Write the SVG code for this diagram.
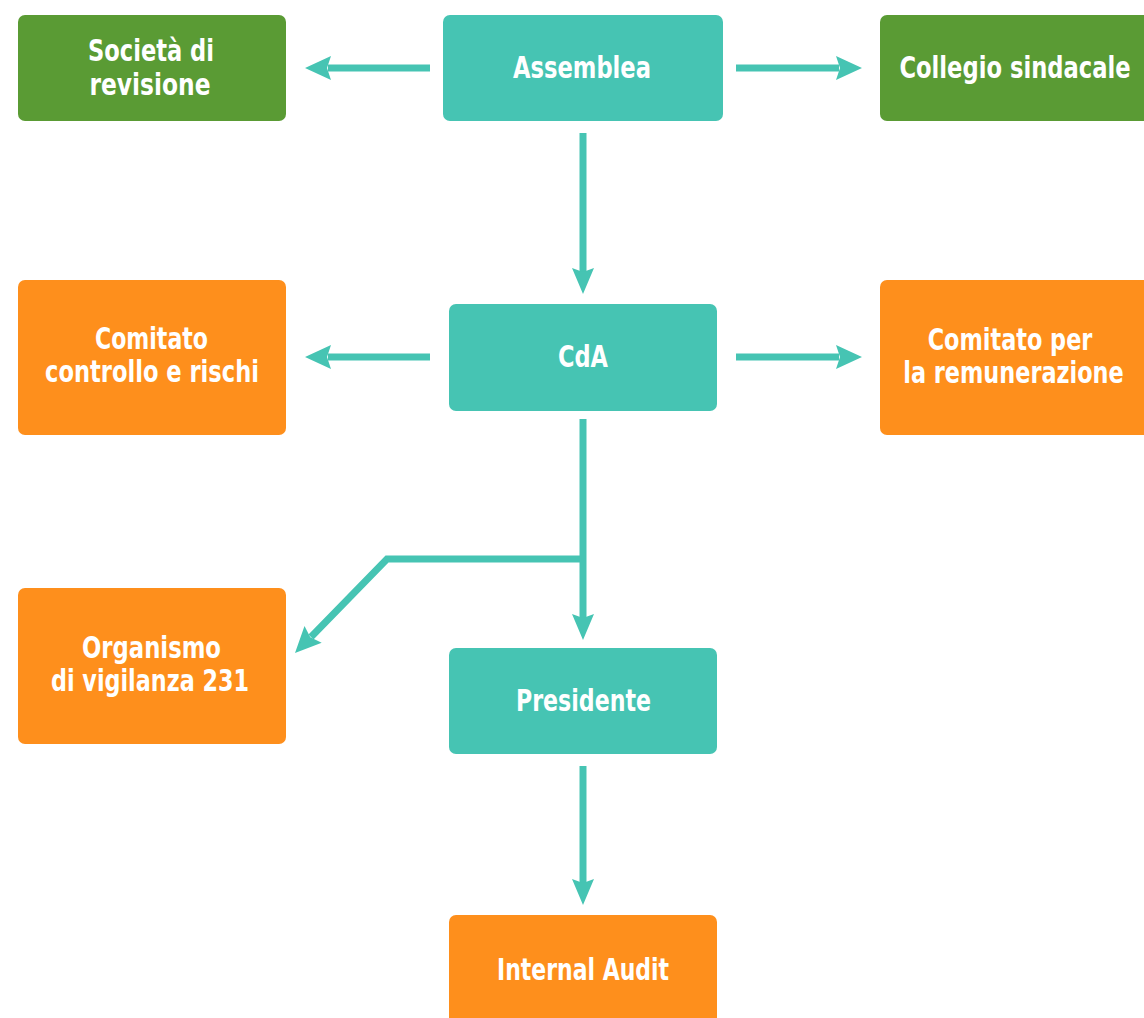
<svg xmlns="http://www.w3.org/2000/svg" width="1144" height="1018" viewBox="0 0 1144 1018">
<defs>
<style>
.teal{fill:#46c4b3}
.green{fill:#5a9b34}
.orange{fill:#fe8f1c}
.lbl{font-family:"DejaVu Sans Condensed","Liberation Sans",sans-serif;font-weight:bold;font-size:30px;fill:#ffffff;text-anchor:middle}
.ln{stroke:#46c4b3;stroke-width:7;fill:none;stroke-linejoin:miter}
.hd{fill:#46c4b3}
</style>
</defs>
<rect width="1144" height="1018" fill="#ffffff"/>
<g id="connectors">
<path class="ln" d="M430,68 H328"/>
<polygon class="hd" points="305,68 331,56 327,68 331,80"/>
<path class="ln" d="M736,68 H839"/>
<polygon class="hd" points="862,68 836,56 840,68 836,80"/>
<path class="ln" d="M583,133 V273"/>
<polygon class="hd" points="583,294 572,268 583,272 594,268"/>
<path class="ln" d="M430,357 H328"/>
<polygon class="hd" points="305,357 331,345 327,357 331,369"/>
<path class="ln" d="M736,357 H839"/>
<polygon class="hd" points="862,357 836,345 840,357 836,369"/>
<path class="ln" d="M583,419 V619"/>
<polygon class="hd" points="583,640 572,614 583,618 594,614"/>
<path class="ln" d="M583,559 H387 L311,637"/>
<polygon class="hd" points="295,653 321.7,642.7 310.3,637.2 304.5,625.9"/>
<path class="ln" d="M583,766 V884"/>
<polygon class="hd" points="583,905 572,879 583,883 594,879"/>
</g>
<g id="assemblea">
<rect class="teal" x="443" y="15" width="280" height="106" rx="7"/>
<text class="lbl" x="582" y="78" textLength="138" lengthAdjust="spacingAndGlyphs">Assemblea</text>
</g>
<g id="societa-revisione">
<rect class="green" x="18" y="15" width="268" height="106" rx="7"/>
<text class="lbl" x="151" y="61" textLength="126" lengthAdjust="spacingAndGlyphs">Società di</text>
<text class="lbl" x="150" y="95" textLength="121" lengthAdjust="spacingAndGlyphs">revisione</text>
</g>
<g id="collegio-sindacale">
<path class="green" d="M887,15 H1144 V121 H887 A7,7 0 0 1 880,114 V22 A7,7 0 0 1 887,15 Z"/>
<text class="lbl" transform="translate(1015,78) scale(0.84,1)">Collegio sindacale</text>
</g>
<g id="cda">
<rect class="teal" x="449" y="304" width="268" height="107" rx="7"/>
<text class="lbl" x="583" y="367" textLength="50" lengthAdjust="spacingAndGlyphs">CdA</text>
</g>
<g id="comitato-controllo">
<rect class="orange" x="18" y="280" width="268" height="155" rx="7"/>
<text class="lbl" x="151.5" y="349" textLength="113" lengthAdjust="spacingAndGlyphs">Comitato</text>
<text class="lbl" x="152" y="382" textLength="214" lengthAdjust="spacingAndGlyphs">controllo e rischi</text>
</g>
<g id="comitato-remunerazione">
<path class="orange" d="M887,280 H1144 V435 H887 A7,7 0 0 1 880,428 V287 A7,7 0 0 1 887,280 Z"/>
<text class="lbl" transform="translate(1010,350) scale(0.83,1)">Comitato per</text>
<text class="lbl" transform="translate(1013.5,383) scale(0.83,1)">la remunerazione</text>
</g>
<g id="organismo">
<rect class="orange" x="18" y="588" width="268" height="156" rx="7"/>
<text class="lbl" x="151.5" y="658" textLength="139" lengthAdjust="spacingAndGlyphs">Organismo</text>
<text class="lbl" x="150" y="691" textLength="198" lengthAdjust="spacingAndGlyphs">di vigilanza 231</text>
</g>
<g id="presidente">
<rect class="teal" x="449" y="648" width="268" height="106" rx="7"/>
<text class="lbl" x="583.5" y="711" textLength="135" lengthAdjust="spacingAndGlyphs">Presidente</text>
</g>
<g id="internal-audit">
<path class="orange" d="M456,915 H710 A7,7 0 0 1 717,922 V1018 H449 V922 A7,7 0 0 1 456,915 Z"/>
<text class="lbl" x="583" y="980" textLength="172" lengthAdjust="spacingAndGlyphs">Internal Audit</text>
</g>
</svg>
